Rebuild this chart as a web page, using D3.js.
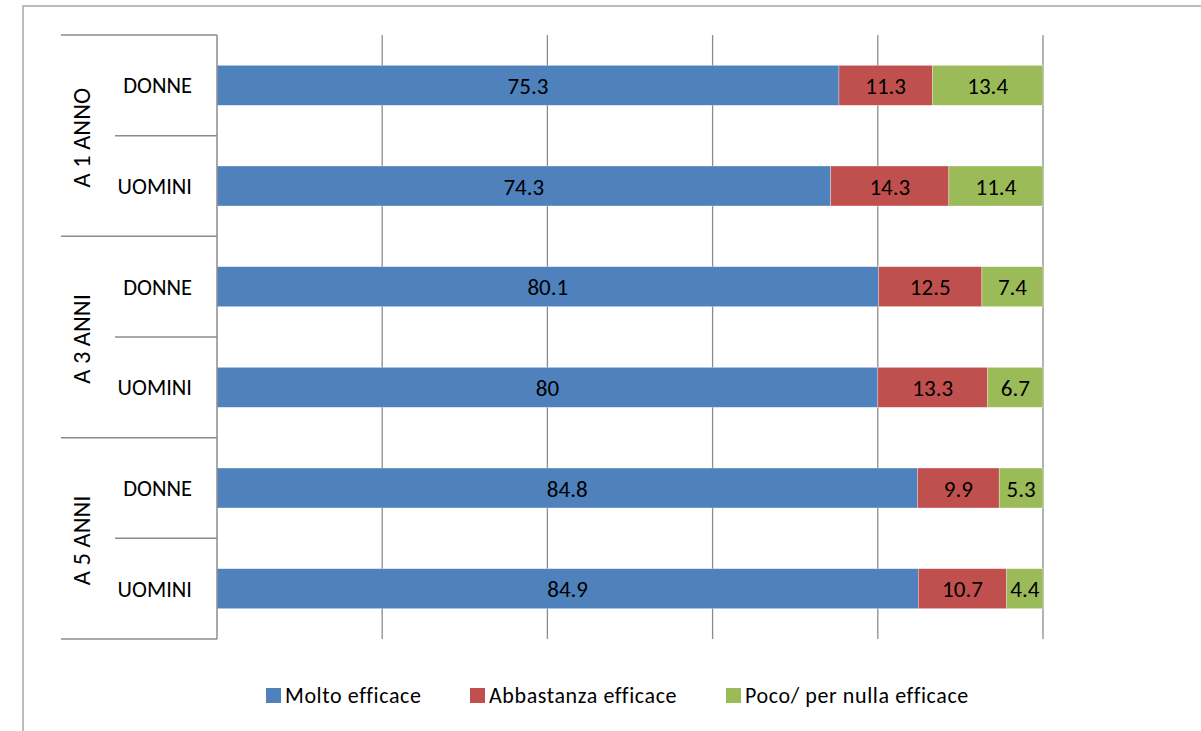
<!DOCTYPE html>
<html>
<head>
<meta charset="utf-8">
<script src="https://cdn.jsdelivr.net/npm/d3@7"></script>
<style>
  body { margin: 0; background: #fff; }
  text { font-family: Carlito, Lato, "Open Sans", sans-serif; fill: #000; }
</style>
</head>
<body>
<svg id="chart" width="1201" height="731"></svg>
<script>
// data
const groups = ["A 1 ANNO", "A 3 ANNI", "A 5 ANNI"];
const genders = ["DONNE", "UOMINI"];
const seriesNames = ["Molto efficace", "Abbastanza efficace", "Poco/ per nulla efficace"];
const molto = [75.3, 74.3, 80.1, 80, 84.8, 84.9];
const abbastanza = [11.3, 14.3, 12.5, 13.3, 9.9, 10.7];
const poco = [13.4, 11.4, 7.4, 6.7, 5.3, 4.4];
const colors = ["#4F81BD", "#C0504D", "#9BBB59"];
const xTicks = [0, 20, 40, 60, 80, 100];

const rows = [];
groups.forEach(function (g) {
    genders.forEach(function (s) { rows.push({ group: g, sex: s }); });
});
rows.forEach(function (r, i) {
    r.values = [molto[i], abbastanza[i], poco[i]];
    r.key = r.group + "|" + r.sex;
});

const svg = d3.select("#chart");
const gridColor = "#8c8c8c";

// outer frame (extends beyond window on right/bottom)
svg.append("rect")
    .attr("x", 23).attr("y", 6)
    .attr("width", 1400).attr("height", 900)
    .attr("fill", "none")
    .attr("stroke", "#a6a6a6")
    .attr("stroke-width", 1.5);

const plotLeft = 217, plotRight = 1043, plotTop = 35, plotBottom = 639;

const x = d3.scaleLinear().domain([0, 100]).range([plotLeft, plotRight]);
const y = d3.scaleBand()
    .domain(rows.map(function (d) { return d.key; }))
    .range([plotTop, plotBottom])
    .paddingInner(0.603)
    .paddingOuter(0.3015);

// vertical gridlines
svg.append("g").selectAll("line")
    .data(xTicks.slice(1))
    .enter()
    .append("line")
    .attr("x1", function (d) { return x(d); })
    .attr("x2", function (d) { return x(d); })
    .attr("y1", plotTop).attr("y2", plotBottom)
    .attr("stroke", gridColor)
    .attr("stroke-width", 1.3);

// stacked bars
const stackData = rows.map(function (r) {
    let acc = 0;
    return r.values.map(function (v, j) {
        const seg = { key: r.key, x0: acc, x1: acc + v, v: v, j: j };
        acc += v;
        return seg;
    });
});

const barG = svg.append("g").selectAll("g")
    .data(stackData)
    .enter()
    .append("g");

barG.selectAll("rect")
    .data(function (d) { return d; })
    .enter()
    .append("rect")
    .attr("x", function (d) { return x(d.x0); })
    .attr("y", function (d) { return y(d.key); })
    .attr("width", function (d) { return x(d.x1) - x(d.x0); })
    .attr("height", y.bandwidth())
    .attr("fill", function (d) { return colors[d.j]; })
    .attr("stroke", "#ffffff")
    .attr("stroke-opacity", 0.5)
    .attr("stroke-width", 0.6);

barG.selectAll("text")
    .data(function (d) { return d; })
    .enter()
    .append("text")
    .attr("x", function (d) { return (x(d.x0) + x(d.x1)) / 2; })
    .attr("y", function (d) { return y(d.key) + y.bandwidth() / 2 + 8.5; })
    .attr("text-anchor", "middle")
    .attr("font-size", 23)
    .text(function (d) { return d.v; });

// category axis
const axisG = svg.append("g");
axisG.append("line")
    .attr("x1", plotLeft).attr("x2", plotLeft)
    .attr("y1", plotTop).attr("y2", plotBottom)
    .attr("stroke", gridColor).attr("stroke-width", 1.5);

const boundaries = d3.range(rows.length + 1).map(function (i) {
    return plotTop + i * (plotBottom - plotTop) / rows.length;
});
axisG.selectAll("line.tick")
    .data(boundaries)
    .enter()
    .append("line")
    .attr("class", "tick")
    .attr("x1", function (d, i) { return i % 2 === 0 ? 61 : 115; })
    .attr("x2", plotLeft)
    .attr("y1", function (d) { return d; })
    .attr("y2", function (d) { return d; })
    .attr("stroke", gridColor).attr("stroke-width", 1.5);

axisG.selectAll("text.sex")
    .data(rows)
    .enter()
    .append("text")
    .attr("class", "sex")
    .attr("x", 192)
    .attr("y", function (d) { return y(d.key) + y.bandwidth() / 2 + 8; })
    .attr("text-anchor", "end")
    .attr("font-size", 22.5)
    .text(function (d) { return d.sex; });

axisG.selectAll("text.group")
    .data(groups)
    .enter()
    .append("text")
    .attr("class", "group")
    .attr("transform", function (d, i) {
        const cy = (boundaries[i * 2] + boundaries[i * 2 + 2]) / 2 + 2;
        return "translate(90," + cy + ") rotate(-90)";
    })
    .attr("text-anchor", "middle")
    .attr("font-size", 24.5)
    .text(function (d) { return d; });

// legend
const legendX = [266, 470, 726];
const legend = svg.append("g").selectAll("g")
    .data(seriesNames)
    .enter()
    .append("g")
    .attr("transform", function (d, i) { return "translate(" + legendX[i] + ",688)"; });

legend.append("rect")
    .attr("width", 15).attr("height", 15)
    .attr("fill", function (d, i) { return colors[i]; });

legend.append("text")
    .attr("x", 19)
    .attr("y", 15)
    .attr("font-size", 22)
    .attr("letter-spacing", 0.6)
    .text(function (d) { return d; });
</script>
</body>
</html>
